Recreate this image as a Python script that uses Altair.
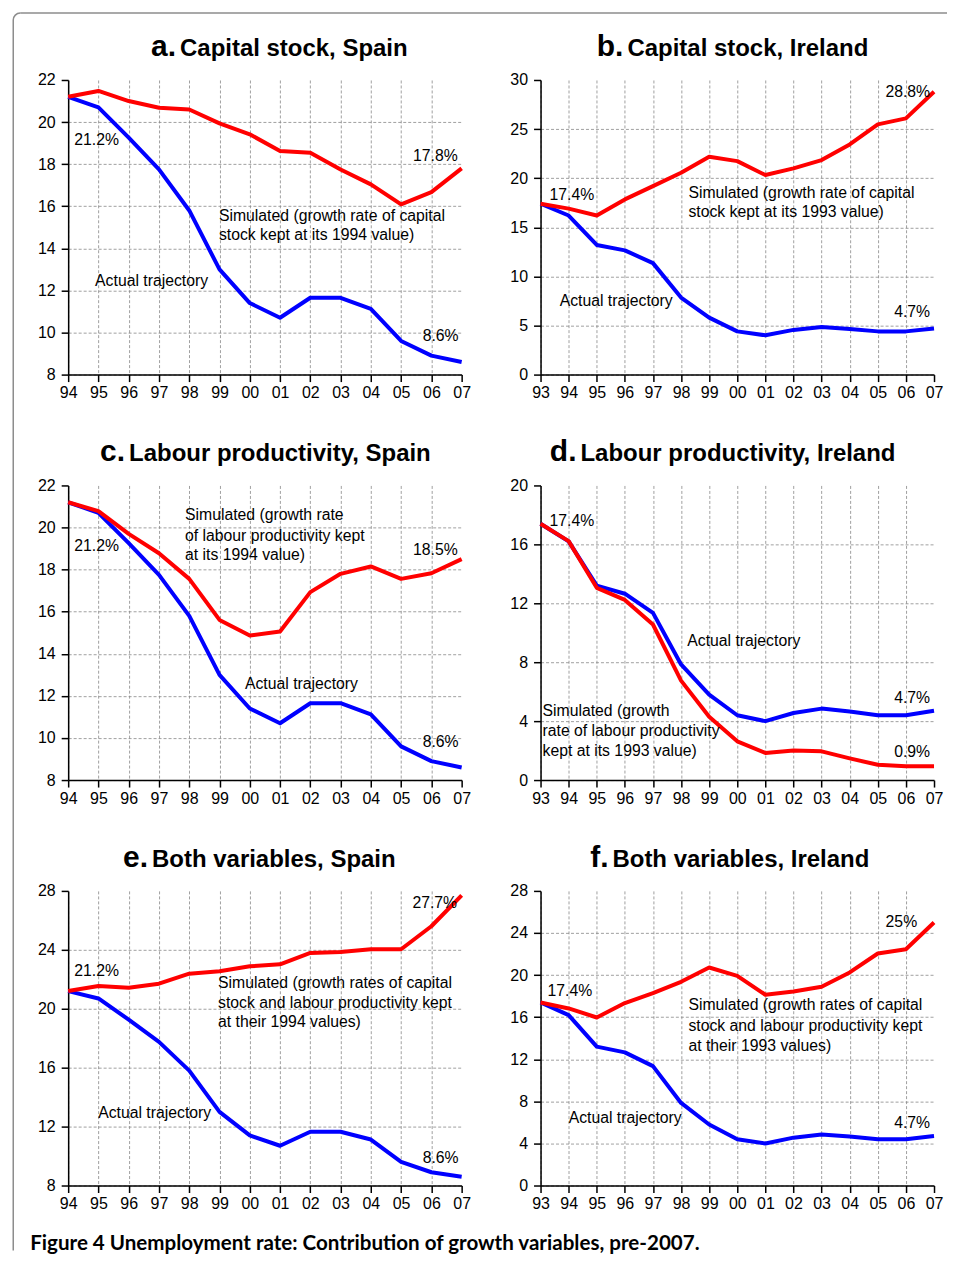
import altair as alt
import pandas as pd

# ---------------- data ----------------
years_es = list(range(1994, 2008))
years_ie = list(range(1993, 2008))

es_actual = [21.2, 20.7, 19.26, 17.75, 15.8, 13.0, 11.4, 10.7, 11.65, 11.65, 11.12, 9.6, 8.9, 8.6]
ie_actual = [17.4, 16.2, 13.2, 12.65, 11.35, 7.85, 5.8, 4.4, 4.0, 4.55, 4.85, 4.65, 4.4, 4.4, 4.7]

sim_a = [21.2, 21.48, 21.0, 20.68, 20.6, 19.94, 19.42, 18.62, 18.54, 17.75, 17.04, 16.09, 16.67, 17.8]
sim_b = [17.4, 16.9, 16.2, 17.84, 19.19, 20.55, 22.19, 21.74, 20.32, 21.0, 21.84, 23.44, 25.48, 26.09, 28.8]
sim_c = [21.2, 20.78, 19.7, 18.78, 17.56, 15.61, 14.87, 15.06, 16.93, 17.8, 18.15, 17.56, 17.83, 18.5]
sim_d = [17.4, 16.22, 13.05, 12.23, 10.56, 6.75, 4.3, 2.63, 1.84, 2.0, 1.95, 1.47, 1.04, 0.93, 0.93]
sim_e = [21.2, 21.54, 21.43, 21.7, 22.38, 22.54, 22.88, 23.02, 23.79, 23.86, 24.04, 24.04, 25.6, 27.7]
sim_f = [17.4, 16.83, 15.97, 17.34, 18.28, 19.36, 20.72, 19.93, 18.13, 18.44, 18.89, 20.25, 22.05, 22.46, 25.0]

letters = ["a.", "b.", "c.", "d.", "e.", "f."]
titles = ["Capital stock, Spain", "Capital stock, Ireland",
          "Labour productivity, Spain", "Labour productivity, Ireland",
          "Both variables, Spain", "Both variables, Ireland"]

y_ticks_a = [8, 10, 12, 14, 16, 18, 20, 22]
y_ticks_b = [0, 5, 10, 15, 20, 25, 30]
y_ticks_c = [8, 10, 12, 14, 16, 18, 20, 22]
y_ticks_d = [0, 4, 8, 12, 16, 20]
y_ticks_e = [8, 12, 16, 20, 24, 28]
y_ticks_f = [0, 4, 8, 12, 16, 20, 24, 28]

# annotations: (text, year position, value position, align)
notes_a = [("21.2%", 1994.2, 19.15, "left"), ("17.8%", 2006.87, 18.39, "right"),
           ("Simulated (growth rate of capital", 1998.98, 15.55, "left"),
           ("stock kept at its 1994 value)", 1998.98, 14.64, "left"),
           ("Actual trajectory", 1994.89, 12.46, "left"), ("8.6%", 2006.9, 9.85, "right")]
notes_b = [("17.4%", 1993.32, 18.3, "left"), ("28.8%", 2006.86, 28.78, "right"),
           ("Simulated (growth rate of capital", 1998.26, 18.5, "left"),
           ("stock kept at its 1993 value)", 1998.26, 16.58, "left"),
           ("Actual trajectory", 1993.68, 7.52, "left"), ("4.7%", 2006.86, 6.41, "right")]
notes_c = [("21.2%", 1994.2, 19.1, "left"), ("18.5%", 2006.87, 18.92, "right"),
           ("Simulated (growth rate", 1997.86, 20.58, "left"),
           ("of labour productivity kept", 1997.86, 19.58, "left"),
           ("at its 1994 value)", 1997.86, 18.68, "left"),
           ("Actual trajectory", 1999.84, 12.56, "left"), ("8.6%", 2006.9, 9.8, "right")]
notes_d = [("17.4%", 1993.32, 17.56, "left"), ("Actual trajectory", 1998.22, 9.42, "left"),
           ("4.7%", 2006.86, 5.56, "right"),
           ("Simulated (growth", 1993.07, 4.68, "left"),
           ("rate of labour productivity", 1993.07, 3.32, "left"),
           ("kept at its 1993 value)", 1993.07, 1.97, "left"),
           ("0.9%", 2006.86, 1.9, "right")]
notes_e = [("21.2%", 1994.2, 22.58, "left"), ("27.7%", 2006.85, 27.19, "right"),
           ("Simulated (growth rates of capital", 1998.95, 21.76, "left"),
           ("stock and labour productivity kept", 1998.95, 20.41, "left"),
           ("at their 1994 values)", 1998.95, 19.12, "left"),
           ("Actual trajectory", 1994.99, 12.95, "left"), ("8.6%", 2006.9, 9.9, "right")]
notes_f = [("17.4%", 1993.25, 18.51, "left"), ("25%", 2006.4, 25.06, "right"),
           ("Simulated (growth rates of capital", 1998.26, 17.18, "left"),
           ("stock and labour productivity kept", 1998.26, 15.19, "left"),
           ("at their 1993 values)", 1998.26, 13.29, "left"),
           ("Actual trajectory", 1994.0, 6.45, "left"), ("4.7%", 2006.86, 5.98, "right")]

caption = "Figure 4 Unemployment rate: Contribution of growth variables, pre-2007."

# ---------------- styling ----------------
FONT = "Liberation Sans"
W, H = 394, 295
RED, BLUE = "#ff0000", "#0000ff"
FRAME = "#8c8c8c"
title_split = [109, 84, 58, 37, 81, 69]
one = pd.DataFrame({"k": [0]})


def panel(i, years, actual, sim, yticks, notes):
    df = pd.DataFrame({"year": years, "actual": actual, "sim": sim})
    xs = alt.Scale(domain=[years[0], years[-1]], nice=False, zero=False)
    ys = alt.Scale(domain=[yticks[0], yticks[-1]], nice=False, zero=False)
    xax = alt.Axis(values=years, labelExpr="substring(toString(datum.value), 2, 4)",
                   title=None, grid=True, labelFlush=False, labelOverlap=False,
                   labelBound=False, labelSeparation=0,
                   gridOpacity=alt.condition(f"datum.value >= {years[-1]}", alt.value(0), alt.value(1)))
    yax = alt.Axis(values=yticks, title=None, grid=True, labelPadding=6, labelOverlap=False,
                   gridOpacity=alt.condition(f"datum.value >= {yticks[-1]}", alt.value(0), alt.value(1)))
    base = alt.Chart(df)
    blue = base.mark_line(color=BLUE, strokeWidth=4, strokeJoin="round").encode(
        x=alt.X("year:Q", scale=xs, axis=xax), y=alt.Y("actual:Q", scale=ys, axis=yax))
    red = base.mark_line(color=RED, strokeWidth=4, strokeJoin="round").encode(
        x=alt.X("year:Q", axis=xax), y=alt.Y("sim:Q", axis=yax))
    nd = pd.DataFrame(notes, columns=["text", "x", "y", "align"])
    layers = [blue, red]
    for al in ["left", "right"]:
        sub = nd[nd["align"] == al]
        if len(sub):
            layers.append(alt.Chart(sub).mark_text(align=al, baseline="middle", font=FONT,
                                                    fontSize=15.8, color="black").encode(
                x=alt.X("x:Q", axis=xax), y=alt.Y("y:Q", axis=yax), text="text:N"))
    tdf = pd.DataFrame({"letter": [letters[i]], "title": [titles[i]]})
    layers.append(alt.Chart(tdf).mark_text(align="right", baseline="alphabetic", font=FONT,
                                           fontSize=30, fontWeight="bold", color="black").encode(
        x=alt.value(title_split[i] - 1), y=alt.value(-24), text="letter:N"))
    layers.append(alt.Chart(tdf).mark_text(align="left", baseline="alphabetic", font=FONT,
                                           fontSize=24, fontWeight="bold", color="black").encode(
        x=alt.value(title_split[i] + 3), y=alt.value(-24), text="title:N"))
    if i == 0:
        # frame: top edge and rounded top-left corner
        layers.append(alt.Chart(one).mark_rule(color=FRAME, strokeWidth=1.5).encode(
            x=alt.value(-48), x2=alt.value(880), y=alt.value(-67)))
        layers.append(alt.Chart(one).mark_arc(filled=False, stroke=FRAME, strokeWidth=1.5,
                                              radius=7, radius2=7, theta=4.7124, theta2=6.2832).encode(
            x=alt.value(-48), y=alt.value(-60)))
    if i == 4:
        # frame: left edge, and caption
        layers.append(alt.Chart(one).mark_rule(color=FRAME, strokeWidth=1.5).encode(
            x=alt.value(-55), y=alt.value(-872), y2=alt.value(360)))
        cdf = pd.DataFrame({"cap": [caption]})
        layers.append(alt.Chart(cdf).mark_text(align="left", baseline="middle", font="Lato",
                                               fontSize=20.6, fontWeight="bold", color="black").encode(
            x=alt.value(-38), y=alt.value(354), text="cap:N"))
    return alt.layer(*layers).properties(width=W, height=H)


pa = panel(0, years_es, es_actual, sim_a, y_ticks_a, notes_a)
pb = panel(1, years_ie, ie_actual, sim_b, y_ticks_b, notes_b)
pc = panel(2, years_es, es_actual, sim_c, y_ticks_c, notes_c)
pd_ = panel(3, years_ie, ie_actual, sim_d, y_ticks_d, notes_d)
pe = panel(4, years_es, es_actual, sim_e, y_ticks_e, notes_e)
pf = panel(5, years_ie, ie_actual, sim_f, y_ticks_f, notes_f)

chart = alt.concat(
    pa, pb, pc, pd_, pe, pf, columns=2, bounds="flush",
    spacing={"row": 111, "column": 79},
).properties(
    padding={"left": 2.25, "top": 1.25, "right": 0, "bottom": 0},
).configure_view(stroke=None).configure_axis(
    labelFont=FONT, labelFontSize=16, labelColor="black", labelOverlap=False,
    domainColor="black", domainWidth=1.5, tickColor="black", tickWidth=1.5, tickSize=7,
    gridColor="#888888", gridDash=[3, 2], gridWidth=0.8, labelPadding=3,
)

chart.save("out.html", embed_options={"renderer": "svg", "actions": False})
